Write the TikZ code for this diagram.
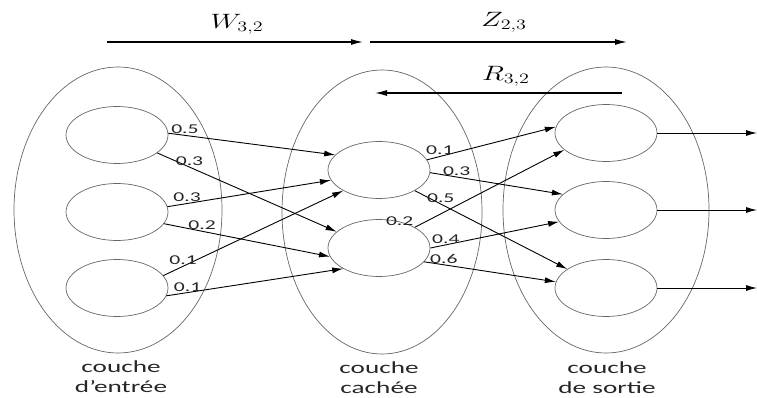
\documentclass[tikz,border=0pt]{standalone}
\usepackage{fontspec}
\setmainfont{Carlito}
\usepackage{graphicx}
\usetikzlibrary{positioning,arrows.meta,shapes.geometric}

% the source picture is stretched sideways
\newcommand{\hw}[1]{\scalebox{1.6}[1]{#1}}
\newcommand{\hwm}[1]{\scalebox{1.4}[1]{#1}}

\begin{document}
\begin{tikzpicture}[
  x=1pt, y=-1pt,
  layer/.style={draw=black!60, line width=0.7pt, ellipse, inner sep=0pt, minimum height=286pt},
  neuron/.style={draw=black!60, line width=0.7pt, ellipse, inner sep=0pt, minimum width=102pt, minimum height=57pt},
  conn/.style={-{Latex[length=11pt,width=6pt]}, draw=black, line width=0.9pt},
  flow/.style={-{Latex[length=12pt,width=6pt]}, draw=black, line width=1.2pt},
  wlab/.style={font=\fontsize{13.5}{13.5}\selectfont, text=black!85, inner sep=1pt, above},
  mathlab/.style={font=\fontsize{21}{21}\selectfont, inner sep=0pt},
  layerlabel/.style={font=\fontsize{17}{20}\selectfont, text=black!85, align=center, inner sep=0pt}
]
\useasboundingbox (0,0) rectangle (757,398);

% ========== Layers ==========
\node[layer, minimum width=208pt] (inlayer) at (118,210) {};
\node[layer, minimum width=200pt, minimum height=284pt] (hidlayer) at (382,212) {};
\node[layer, minimum width=206pt] (outlayer) at (606,210) {};

% ========== Neurons ==========
\node[neuron] (i1) at (117,135) {};
\node[neuron] (i2) at (117,212) {};
\node[neuron] (i3) at (117,288) {};

\node[neuron] (h1) at (379,170) {};
\node[neuron] (h2) at (379,248) {};

\node[neuron] (o1) at (606,133) {};
\node[neuron] (o2) at (606,210) {};
\node[neuron] (o3) at (606,288) {};

% ========== Input -> hidden ==========
\draw[conn] (i1.2)   -- node[wlab, pos=.10] {\hw{0.5}} (h1.161);
\draw[conn] (i1.-24) -- node[wlab, pos=.18] {\hw{0.3}} (h2.159);
\draw[conn] (i2.6)   -- node[wlab, pos=.12] {\hw{0.3}} (h1.192);
\draw[conn] (i2.-14) -- node[wlab, pos=.23] {\hw{0.2}} (h2.190);
\draw[conn] (i3.15)  -- node[wlab, pos=.11] {\hw{0.1}} (h1.210);
\draw[conn] (i3.-9)  -- node[wlab, pos=.12] {\hw{0.1}} (h2.210);

% ========== Hidden -> output ==========
\draw[conn] (h1.12)  -- node[wlab, pos=.10] {\hw{0.1}} (o1.173);
\draw[conn] (h1.-3)  -- node[wlab, pos=.20] {\hw{0.3}} (o2.160);
\draw[conn] (h1.-30) -- node[wlab, pos=.17] {\hw{0.5}} (o3.154);
\draw[conn] (h2.30)  -- node[wlab, at start, anchor=south east] {\hw{0.2}} (o1.202);
\draw[conn] (h2.0)   -- node[wlab, pos=.12] {\hw{0.4}} (o2.194);
\draw[conn] (h2.-17) -- node[wlab, pos=.15] {\hw{0.6}} (o3.173);

% ========== Outputs ==========
\coordinate (out1) at (757,133);
\coordinate (out2) at (757,210);
\coordinate (out3) at (757,288);
\draw[conn] (o1.east) -- (out1);
\draw[conn] (o2.east) -- (out2);
\draw[conn] (o3.east) -- (out3);

% ========== Matrices on top ==========
\coordinate (wstart) at (107,42);
\coordinate (wend)   at (363,42);
\coordinate (zstart) at (370,42);
\coordinate (zend)   at (627,42);
\coordinate (rstart) at (622,93);
\coordinate (rend)   at (375,93);
\draw[flow] (wstart) -- (wend);
\draw[flow] (zstart) -- (zend);
\draw[flow] (rstart) -- (rend);
\node[mathlab] (wlabel) at (237,24) {\hwm{$W_{3,2}$}};
\node[mathlab] (zlabel) at (504,22) {\hwm{$Z_{2,3}$}};
\node[mathlab] (rlabel) at (506,76) {\hwm{$R_{3,2}$}};

% ========== Layer names ==========
\node[layerlabel] (inlabel)  at (121,377) {\hw{couche}\\\hw{d’entrée}};
\node[layerlabel] (hidlabel) at (379,378) {\hw{couche}\\\hw{cachée}};
\node[layerlabel] (outlabel) at (607,378) {\hw{couche}\\\hw{de sortie}};

\end{tikzpicture}
\end{document}
